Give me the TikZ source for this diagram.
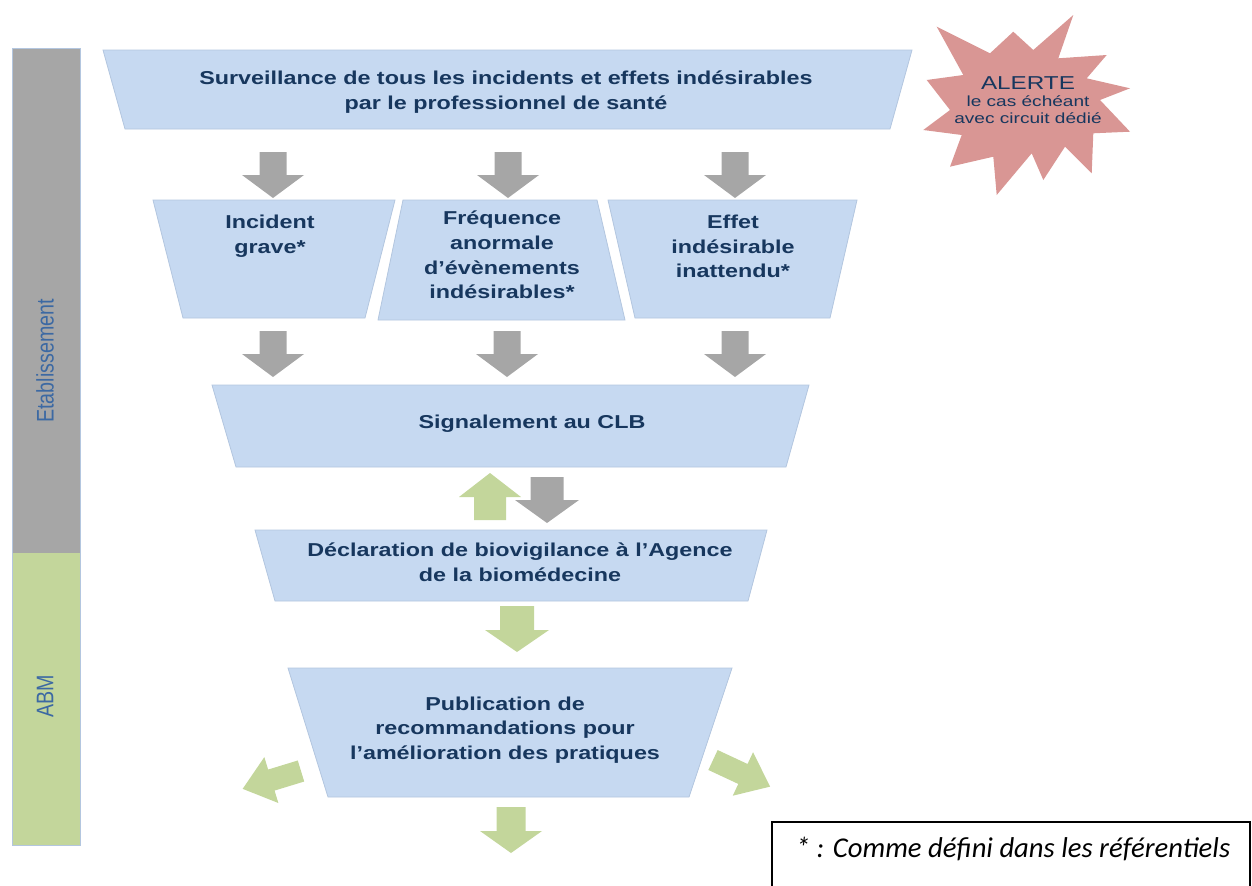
\documentclass[tikz,border=0pt]{standalone}
\usepackage{fontspec}
\setmainfont{Liberation Sans}
\newfontfamily\wideSans[FakeStretch=1.25]{Liberation Sans}
\newfontfamily\starSans[FakeStretch=1.3]{Liberation Sans}
\newfontfamily\narrowSans[FakeStretch=0.82]{Liberation Sans}
\newfontfamily\noteFont{Carlito}
\definecolor{boxblue}{HTML}{C6D9F1}
\definecolor{boxedge}{HTML}{B3C6DF}
\definecolor{navy}{HTML}{17375E}
\definecolor{arrgray}{HTML}{A6A6A6}
\definecolor{arrgreen}{HTML}{C3D69B}
\definecolor{starpink}{HTML}{D99694}
\definecolor{sideblue}{HTML}{3C69A3}
\begin{document}
\begin{tikzpicture}[x=0.75pt,y=-0.75pt,
  trap/.style={fill=boxblue,draw=boxedge,line width=0.6pt},
  boxtext/.style={font=\wideSans\bfseries\fontsize{14}{18.4}\selectfont,text=navy,align=center,inner sep=0pt},
  sidelabel/.style={font=\narrowSans\fontsize{18}{20}\selectfont,text=sideblue,inner sep=0pt},
  pics/barrow/.style n args={4}{code={
    \fill (-#1,0) -- (#1,0) -- (#1,#3) -- (#2,#3) -- (0,#4) -- (-#2,#3) -- (-#1,#3) -- cycle;}},
  grayarrow/.style={fill=arrgray},
  greenarrow/.style={fill=arrgreen}]
\useasboundingbox (0,0) rectangle (1252,885);
\clip (0,0) rectangle (1252,885);

% side bars
\fill[arrgray] (12,48) rectangle (80,553);
\fill[arrgreen] (12,553) rectangle (80,845);
\draw[boxedge,line width=0.5pt] (12,48) rectangle (80,845);
\node[sidelabel,rotate=90] (etab) at (45,361) {Etablissement};
\node[sidelabel,rotate=90] (abm) at (45,696) {ABM};

% top box
\filldraw[trap] (103,50) -- (912,50) -- (890,129) -- (125,129) -- cycle;
\node[boxtext] (surv) at (506,92) {Surveillance de tous les incidents et effets indésirables\\par le professionnel de santé};

% three boxes
\filldraw[trap] (153,200) -- (395,200) -- (365,318) -- (183,318) -- cycle;
\node[boxtext,anchor=north] (inc) at (270,215) {Incident\\grave*};
\filldraw[trap] (403,200) -- (597,200) -- (625,320) -- (378,320) -- cycle;
\node[boxtext] (freq) at (502,255) {Fréquence\\anormale\\d’évènements\\indésirables*};
\filldraw[trap] (608,200) -- (857,200) -- (830,318) -- (635,318) -- cycle;
\node[boxtext,anchor=north] (effet) at (733,215) {Effet\\indésirable\\inattendu*};

% Signalement
\filldraw[trap] (212,385) -- (809,385) -- (786,467) -- (236,467) -- cycle;
\node[boxtext] (sig) at (532,424) {Signalement au CLB};

% Declaration
\filldraw[trap] (255,530) -- (767,530) -- (748,601) -- (275,601) -- cycle;
\node[boxtext] (decl) at (520,562) {Déclaration de biovigilance à l’Agence\\de la biomédecine};

% Publication
\filldraw[trap] (288,668) -- (732,668) -- (689,797) -- (328,797) -- cycle;
\node[boxtext] (pub) at (505,730) {Publication de\\recommandations pour\\l’amélioration des pratiques};

% gray arrows row 1
\pic[grayarrow] at (273,152) {barrow={13.5}{31}{23}{46}};
\pic[grayarrow] at (508,152) {barrow={13.5}{31}{23}{46}};
\pic[grayarrow] at (735,152) {barrow={13.5}{31}{23}{46}};
% gray arrows row 2
\pic[grayarrow] at (273,331) {barrow={13.5}{31}{23}{46}};
\pic[grayarrow] at (507,331) {barrow={13.5}{31}{23}{46}};
\pic[grayarrow] at (735,331) {barrow={13.5}{31}{23}{46}};
% up / down pair
\pic[greenarrow,rotate=180] at (490,520) {barrow={16}{31}{23}{47}};
\pic[grayarrow] at (547,477) {barrow={16.5}{32}{23}{46}};
% green down below declaration
\pic[greenarrow] at (517,606) {barrow={17}{32}{24}{46}};
% publication outputs
\pic[greenarrow,rotate=-73] at (301,771) {barrow={11}{24}{31}{61}};
\pic[greenarrow,rotate=65] at (713,760) {barrow={11}{24}{33}{63}};
\pic[greenarrow] at (511,807) {barrow={14.5}{31}{24}{46}};

% star
\fill[starpink] (1073.3,15) -- (1058.3,58.3) -- (1106.7,55) -- (1086.7,78.3) -- (1130,88.3)
  -- (1100,100) -- (1130,131.7) -- (1093.3,133.3) -- (1091.7,173.3) -- (1065,146.7)
  -- (1043.3,180) -- (1031.7,153.3) -- (996.7,195) -- (993.3,156.7) -- (950,166.7)
  -- (961.7,135) -- (923.3,130) -- (950,110) -- (926.7,80) -- (963.3,75)
  -- (936.7,26.7) -- (990,53.3) -- (1013.3,31.7) -- (1033.3,50) -- cycle;
\node[text=navy,align=center,inner sep=0pt,font=\starSans\fontsize{11}{12.8}\selectfont] (alerte) at (1028,100)
  {{\fontsize{14}{15}\selectfont ALERTE}\\le cas échéant\\avec circuit dédié};

% note
\draw[black,line width=0.8pt] (772,822) rectangle (1250,900);
\node[font=\noteFont\itshape\fontsize{21.5}{24}\selectfont,inner sep=0pt] (note) at (1013,849) {* : Comme défini dans les référentiels};
\end{tikzpicture}
\end{document}
